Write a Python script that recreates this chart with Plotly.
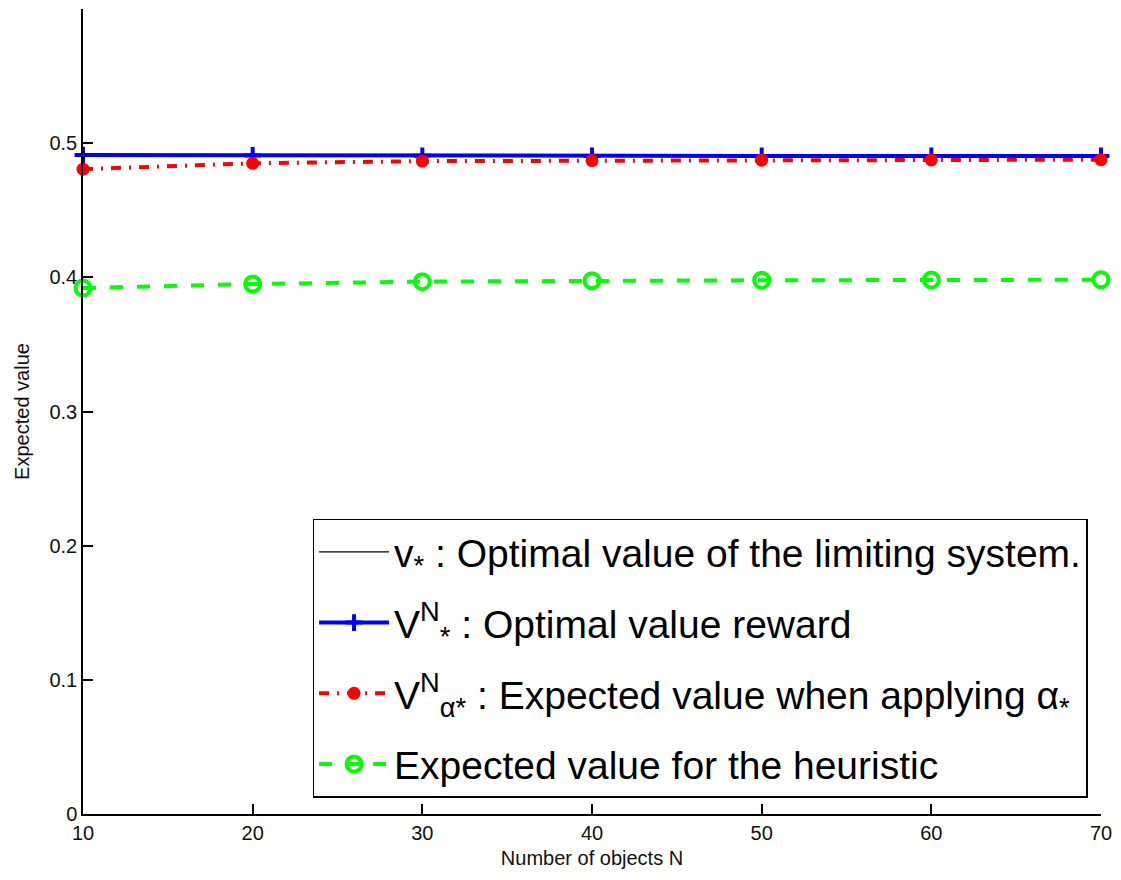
import plotly.graph_objects as go

# Number of objects N
n_objects = [10, 20, 30, 40, 50, 60, 70]

# Optimal value of the limiting system (constant)
v_star = [0.4904, 0.4904, 0.4904, 0.4904, 0.4904, 0.4904, 0.4904]
# Optimal value reward V*^N
v_opt_n = [0.4911, 0.4908, 0.4906, 0.4905, 0.4905, 0.4905, 0.4905]
# Expected value when applying alpha*
v_alpha = [0.4806, 0.4850, 0.4866, 0.4870, 0.4873, 0.4875, 0.4877]
# Expected value for the heuristic
v_heur = [0.3920, 0.3950, 0.3968, 0.3975, 0.3978, 0.3980, 0.3982]

x_ticks = [10, 20, 30, 40, 50, 60, 70]
y_ticks = [0, 0.1, 0.2, 0.3, 0.4, 0.5]

FONT = "Liberation Sans, Arial, sans-serif"

fig = go.Figure()

fig.add_trace(go.Scatter(
    x=n_objects, y=v_star, mode="lines",
    line=dict(color="black", width=1.2),
    name="v<sub>*</sub> : Optimal value of the limiting system.",
    legendgroup="a", cliponaxis=False,
))
fig.add_trace(go.Scatter(
    x=n_objects, y=v_opt_n, mode="lines+markers",
    line=dict(color="#0000FF", width=4),
    marker=dict(symbol="cross-thin", size=12, line=dict(color="#0000FF", width=4)),
    name="V<sup>N</sup><sub>*</sub> : Optimal value reward",
    legendgroup="b", cliponaxis=False,
))
fig.add_trace(go.Scatter(
    x=n_objects, y=v_alpha, mode="lines+markers",
    line=dict(color="#FF0000", width=4, dash="10px,8px,2px,8px"),
    marker=dict(symbol="circle", size=13, color="#FF0000"),
    name="V<sup>N</sup><sub>α*</sub> : Expected value when applying α<sub>*</sub>",
    legendgroup="c", cliponaxis=False,
))
fig.add_trace(go.Scatter(
    x=n_objects, y=v_heur, mode="lines+markers",
    line=dict(color="#00FF00", width=4, dash="13px,14px"),
    marker=dict(symbol="circle-open", size=15, color="#00FF00", line=dict(width=4)),
    name="Expected value for the heuristic",
    legendgroup="d", cliponaxis=False,
))

axis_common = dict(
    showline=True, linecolor="black", linewidth=1.5,
    ticks="inside", ticklen=10, tickwidth=1.5, tickcolor="black",
    showgrid=False, zeroline=False,
    tickfont=dict(family=FONT, size=20, color="#111"),
    title_font=dict(family=FONT, size=20, color="#111"),
)

fig.update_xaxes(
    range=[10, 70], tickvals=x_ticks,
    title_text="Number of objects N", title_standoff=8,
    **axis_common,
)
fig.update_yaxes(
    range=[0, 0.6], tickvals=y_ticks,
    title_text="Expected value", title_standoff=14,
    **axis_common,
)

fig.update_layout(
    width=1121, height=880,
    margin=dict(l=83, r=18, t=9, b=66),
    plot_bgcolor="white", paper_bgcolor="white",
    font=dict(family=FONT, color="black"),
    legend=dict(
        x=0.2255, y=0.367, xanchor="left", yanchor="top",
        bgcolor="white", bordercolor="black", borderwidth=1.5,
        font=dict(family=FONT, size=39, color="black"),
        itemwidth=70, traceorder="grouped", tracegroupgap=17,
    ),
)

fig.write_html("out.html")
